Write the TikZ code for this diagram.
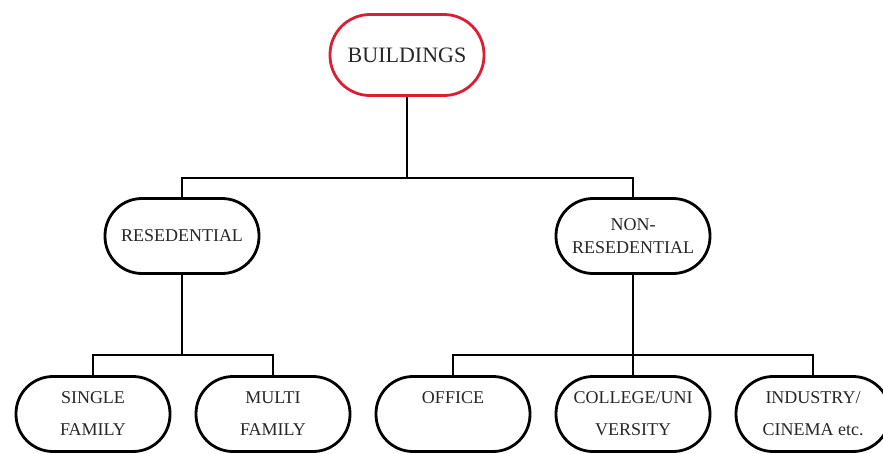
\documentclass[tikz,border=0pt]{standalone}
\usepackage{fontspec}
\setmainfont{Liberation Serif}
\usetikzlibrary{positioning}
\definecolor{rootred}{RGB}{221,30,50}

\begin{document}
\begin{tikzpicture}[x=1pt,y=-1pt,node distance=180pt,line width=1.2pt,
    box/.style={draw,line width=2.8pt,rounded corners=37pt,minimum width=154pt,
                minimum height=75pt,align=center,text=black!85},
    root/.style={box,draw=rootred,minimum height=81pt,rounded corners=40pt,
                 font=\fontsize{22}{26}\selectfont},
    kind/.style={box,font=\fontsize{18}{23}\selectfont},
    leaf/.style={box,font=\fontsize{18}{32}\selectfont}]

  \useasboundingbox (0,0) rectangle (883,453);

  \node[root] (bld)  at (407,55)  {BUILDINGS};
  \node[kind] (res)  at (182,236) {RESEDENTIAL};
  \node[kind] (nres) at (633,236) {NON-\\RESEDENTIAL};

  \node[leaf] (sf)  at (93,414)  {SINGLE\\FAMILY};
  \node[leaf] (mf)  [right of=sf]  {MULTI\\FAMILY};
  \node[leaf] (off) [right of=mf]  {OFFICE\\~};
  \node[leaf] (col) [right of=off] {COLLEGE/UNI\\VERSITY};
  \node[leaf] (ind) [right of=col] {INDUSTRY/\\CINEMA etc.};

  % junctions of the branches
  \path (bld.south)  ++(0,81) coordinate (j1);
  \path (res.south)  ++(0,80) coordinate (j2);
  \path (nres.south) ++(0,80) coordinate (j3);

  \draw (bld.south) -- (j1);
  \draw (res.north) |- (j1) -| (nres.north);

  \draw (res.south) -- (j2);
  \draw (sf.north) |- (j2) -| (mf.north);

  \draw (nres.south) -- (col.north);
  \draw (off.north) |- (j3) -| (ind.north);
\end{tikzpicture}
\end{document}
